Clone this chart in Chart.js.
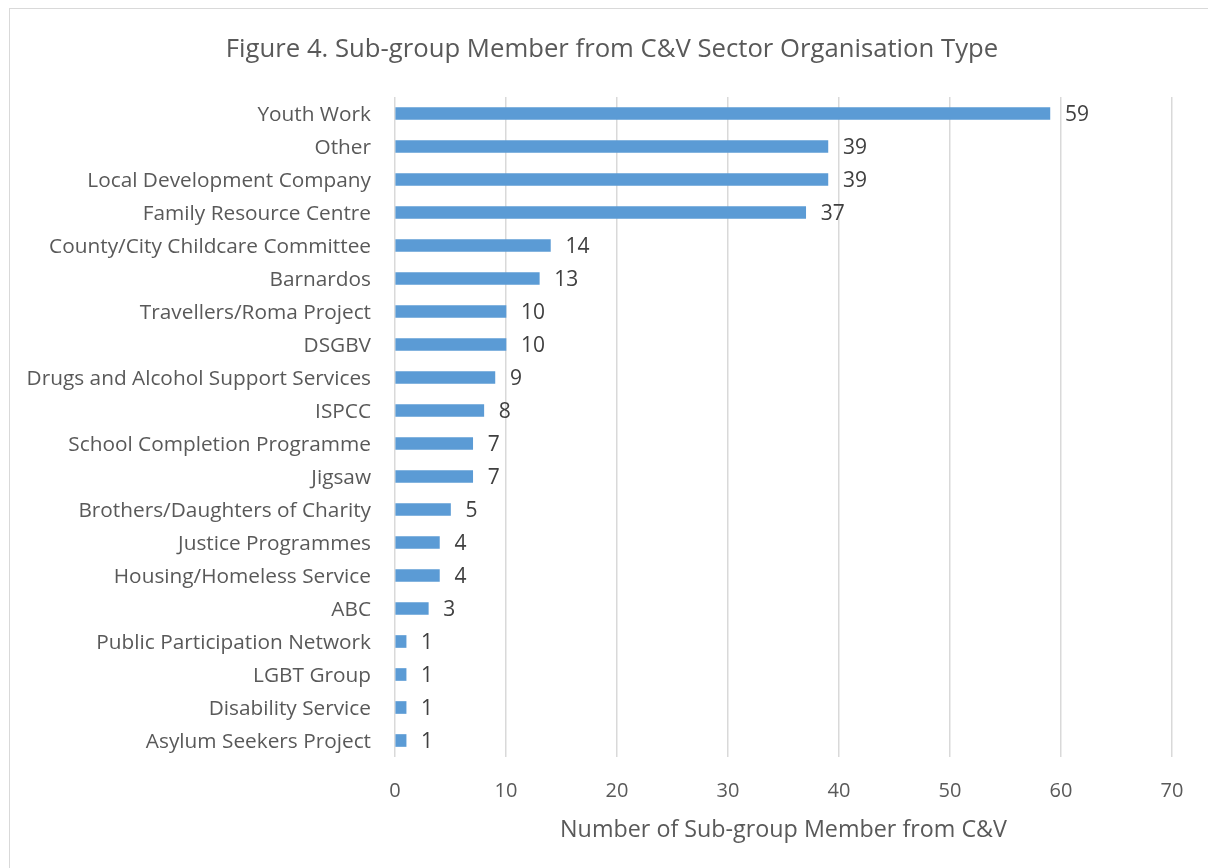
<!DOCTYPE html>
<html>
<head>
<meta charset="utf-8">
<script src="https://cdn.jsdelivr.net/npm/chart.js@4.4.1/dist/chart.umd.min.js"></script>
<style>
    html, body { margin: 0; padding: 0; background: #fff; }
    #wrap { position: absolute; left: 0; top: 0; width: 1208px; height: 868px; }
    #frame { position: absolute; left: 9px; top: 8px; width: 1210px; height: 870px; border: 1.5px solid #D9D9D9; box-sizing: border-box; pointer-events: none; }
</style>
</head>
<body>
<div id="wrap">
    <canvas id="orgChart" width="1208" height="868"></canvas>
    <div id="frame"></div>
</div>
<script>
const chartTitle = 'Figure 4. Sub-group Member from C&V Sector Organisation Type';
const categories = [
    'Youth Work',
    'Other',
    'Local Development Company',
    'Family Resource Centre',
    'County/City Childcare Committee',
    'Barnardos',
    'Travellers/Roma Project',
    'DSGBV',
    'Drugs and Alcohol Support Services',
    'ISPCC',
    'School Completion Programme',
    'Jigsaw',
    'Brothers/Daughters of Charity',
    'Justice Programmes',
    'Housing/Homeless Service',
    'ABC',
    'Public Participation Network',
    'LGBT Group',
    'Disability Service',
    'Asylum Seekers Project'
];
const memberCounts = [59, 39, 39, 37, 14, 13, 10, 10, 9, 8, 7, 7, 5, 4, 4, 3, 1, 1, 1, 1];
const xTicks = [0, 10, 20, 30, 40, 50, 60, 70];

const fontFamily = '"Open Sans", "Noto Sans", sans-serif';
const textGrey = '#595959';

// title sits over the frame centre, not over the chart box
const titleText = {
    id: 'titleText',
    afterDraw(chart) {
        const ctx = chart.ctx;
        ctx.save();
        ctx.font = '25.7px ' + fontFamily;
        ctx.fillStyle = textGrey;
        ctx.textAlign = 'center';
        ctx.textBaseline = 'middle';
        ctx.fillText(chartTitle, 612, 50);
        ctx.restore();
    }
};

// value labels at the end of each bar
const barLabels = {
    id: 'barLabels',
    afterDatasetsDraw(chart) {
        const ctx = chart.ctx;
        const meta = chart.getDatasetMeta(0);
        ctx.save();
        ctx.font = '21px ' + fontFamily;
        ctx.fillStyle = '#404040';
        ctx.textAlign = 'left';
        ctx.textBaseline = 'middle';
        meta.data.forEach((bar, i) => {
            ctx.fillText(String(memberCounts[i]), bar.x + 15, bar.y + 2);
        });
        ctx.restore();
    }
};

const ctx = document.getElementById('orgChart').getContext('2d');
new Chart(ctx, {
    type: 'bar',
    data: {
        labels: categories,
        datasets: [{
            data: memberCounts,
            backgroundColor: '#5B9BD5',
            barThickness: 12
        }]
    },
    options: {
        indexAxis: 'y',
        responsive: false,
        animation: false,
        layout: { padding: { left: 0, right: 36, top: 97, bottom: 0 } },
        plugins: {
            legend: { display: false },
            tooltip: { enabled: false },
            title: { display: false }
        },
        scales: {
            x: {
                min: 0,
                max: 70,
                afterBuildTicks(scale) {
                    scale.ticks = xTicks.map(v => ({ value: v }));
                },
                afterFit(scale) { scale.height = 111; },
                grid: { color: '#D9D9D9', lineWidth: 1.5, drawTicks: false },
                border: { display: false },
                ticks: {
                    color: textGrey,
                    padding: 22,
                    font: { family: fontFamily, size: 20 }
                },
                title: {
                    display: true,
                    text: 'Number of Sub-group Member from C&V',
                    color: textGrey,
                    font: { family: fontFamily, size: 23.3 },
                    padding: { top: 0, bottom: 24 }
                }
            },
            y: {
                afterFit(scale) { scale.width = 395; },
                grid: { display: false },
                border: { display: false },
                ticks: {
                    color: textGrey,
                    padding: 16,
                    labelOffset: 2,
                    autoSkip: false,
                    font: { family: fontFamily, size: 20.8 }
                }
            }
        }
    },
    plugins: [barLabels, titleText]
});
</script>
</body>
</html>
